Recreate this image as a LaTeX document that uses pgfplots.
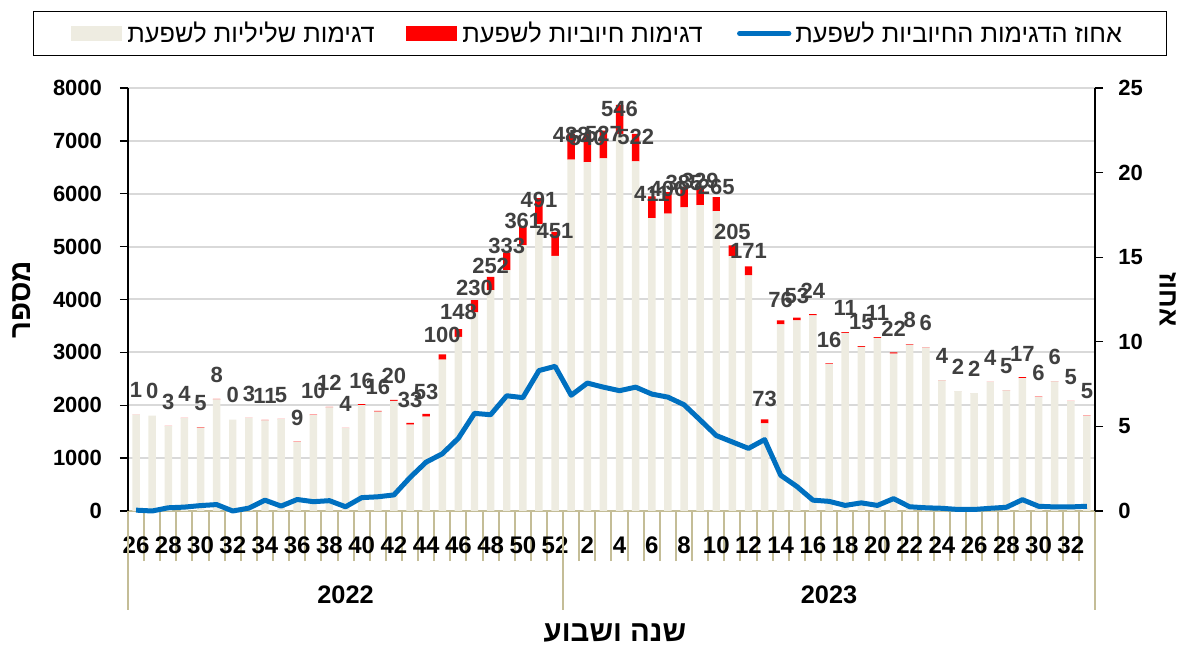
\documentclass[border=0pt]{standalone}
\usepackage{pgfplots}
\pgfplotsset{compat=1.18}
\usepackage{pgfplotstable}
\usepackage{fontspec}
\setmainfont{Liberation Sans}
\newfontfamily\heb[Script=Hebrew]{Liberation Sans}
\TeXXeTstate=1
\definecolor{beige}{HTML}{EEECE1}
\definecolor{tanline}{HTML}{C4BD97}
\definecolor{lblue}{HTML}{0070C0}
\definecolor{lgray}{HTML}{404040}
\definecolor{gridc}{HTML}{D9D9D9}

\pgfplotstableread{
idx neg pos pct
0 1823 1 0.05
1 1805 0 0.00
2 1607 3 0.19
3 1758 4 0.23
4 1579 5 0.32
5 2113 8 0.38
6 1730 0 0.00
7 1759 3 0.17
8 1713 11 0.64
9 1738 5 0.29
10 1305 9 0.68
11 1814 10 0.55
12 1958 12 0.61
13 1569 4 0.25
14 2003 16 0.79
15 1878 16 0.84
16 2082 20 0.95
17 1634 33 1.98
18 1784 53 2.89
19 2862 100 3.38
20 3292 148 4.30
21 3757 230 5.77
22 4176 252 5.69
23 4554 333 6.81
24 5029 361 6.70
25 5427 491 8.30
26 4826 451 8.55
27 6644 488 6.84
28 6600 540 7.56
29 6668 527 7.32
30 7134 546 7.11
31 6610 522 7.32
32 5539 411 6.91
33 5625 406 6.73
34 5741 385 6.28
35 5784 329 5.38
36 5672 265 4.46
37 4820 205 4.08
38 4454 171 3.70
39 1658 73 4.22
40 3530 76 2.11
41 3603 53 1.45
42 3701 24 0.64
43 2778 16 0.57
44 3370 11 0.33
45 3104 15 0.48
46 3276 11 0.33
47 2978 22 0.73
48 3142 8 0.25
49 3088 6 0.19
50 2471 4 0.16
51 2267 2 0.09
52 2229 2 0.09
53 2440 4 0.16
54 2282 5 0.22
55 2514 17 0.67
56 2156 6 0.28
57 2450 6 0.24
58 2076 5 0.24
59 1801 5 0.28
}\data

\begin{document}
\begin{tikzpicture}
\begin{axis}[
  at={(0,0)}, anchor=south west,
  scale only axis, width=725.25pt, height=317.25pt,
  xmin=-0.5, xmax=59.5, ymin=0, ymax=8000,
  ybar stacked, bar width=5.6pt,
  axis x line*=bottom, axis y line*=left,
  x axis line style={draw=tanline, line width=1.5pt},
  y axis line style={draw=black, line width=1pt},
  tick align=outside,
  xtick={0,2,...,58},
  xticklabels={26,28,30,32,34,36,38,40,42,44,46,48,50,52,2,4,6,8,10,12,14,16,18,20,22,24,26,28,30,32},
  every major x tick/.append style={draw=none},
  minor xtick={-0.5,0.5,...,59.5},
  every minor x tick/.append style={draw=tanline, line width=1.5pt},
  minor tick length=37.5pt,
  major tick length=6pt,
  ytick={0,1000,...,8000},
  every major y tick/.append style={draw=black, line width=1pt},
  ymajorgrids, grid style={draw=gridc, line width=1.5pt},
  xticklabel style={font=\fontsize{18}{20}\selectfont\bfseries, yshift=-10pt},
  yticklabel style={font=\fontsize{16.5}{18}\selectfont\bfseries, xshift=-10pt},
  /pgf/number format/assume math mode=true,
  /pgf/number format/1000 sep={},
  clip=false,
]
\addplot[fill=beige, draw=none] table[x=idx, y=neg]{\data};
\addplot[fill=red, draw=none] table[x=idx, y=pos]{\data};
\draw[tanline, line width=1.5pt] (axis cs:-0.5,0) -- ++(0pt,-74pt);
\draw[tanline, line width=1.5pt] (axis cs:26.5,0) -- ++(0pt,-74pt);
\draw[tanline, line width=1.5pt] (axis cs:59.5,0) -- ++(0pt,-74pt);
\node[font=\fontsize{19}{21}\selectfont\bfseries] at (axis cs:13,0) [yshift=-62.6pt] {2022};
\node[font=\fontsize{19}{21}\selectfont\bfseries] at (axis cs:43,0) [yshift=-62.6pt] {2023};
\node[font=\fontsize{22}{24}\selectfont\bfseries\heb] at (axis description cs:0.5036,-0.2884) {\beginR שנה ושבוע\endR};
\node[rotate=90, font=\fontsize{22}{24}\selectfont\bfseries\heb] at (axis description cs:-0.1096,0.5) {\beginR מספר\endR};
\end{axis}
\begin{axis}[
  at={(0,0)}, anchor=south west,
  scale only axis, width=725.25pt, height=317.25pt,
  xmin=-0.5, xmax=59.5, ymin=0, ymax=25,
  axis y line*=right, axis x line=none,
  y axis line style={draw=black, line width=1pt},
  tick align=outside, major tick length=6pt,
  ytick={0,5,...,25},
  every major y tick/.append style={draw=black, line width=1pt},
  yticklabel style={font=\fontsize{16.5}{18}\selectfont\bfseries, xshift=8pt},
  /pgf/number format/assume math mode=true,
  clip=false,
]
\addplot[lblue, line width=3.75pt, line join=round, mark=none] table[x=idx, y=pct]{\data};
\node[rotate=-90, inner sep=1pt, font=\fontsize{20}{22}\selectfont\bfseries\heb] at (axis description cs:1.0755,0.5) {\beginR אחוז\endR};
\end{axis}
\begin{axis}[
  at={(0,0)}, anchor=south west,
  scale only axis, width=725.25pt, height=317.25pt,
  xmin=-0.5, xmax=59.5, ymin=0, ymax=8000,
  hide axis, clip=false,
  legend columns=3,
  legend style={at={(axis description cs:0.488,1.129)}, anchor=center,
    draw=black, line width=0.75pt, inner xsep=13.5pt, inner ysep=6pt,
    font=\fontsize{19}{22}\selectfont\heb,
    nodes={inner xsep=0pt, inner ysep=2pt}},
]
\addplot[draw=none, mark=none, forget plot,
  nodes near coords={\pgfplotspointmeta}, point meta=explicit symbolic,
  nodes near coords style={font=\fontsize{16.5}{18}\selectfont\bfseries, text=lgray, anchor=center, yshift=18.4pt}]
  table[x=idx, y=neg, meta=pos]{\data};
\addlegendimage{legend image code/.code={\path (-15pt,0pt); \fill[beige] (0pt,-5.5pt) rectangle (37.5pt,5.5pt);}}
\addlegendentry{\hspace*{4pt}\makebox[209pt][l]{\beginR דגימות שליליות לשפעת\endR}}
\addlegendimage{legend image code/.code={\fill[red] (0pt,-5.5pt) rectangle (37.5pt,5.5pt);}}
\addlegendentry{\hspace*{4pt}\makebox[206pt][l]{\beginR דגימות חיוביות לשפעת\endR}}
\addlegendimage{legend image code/.code={\draw[lblue, line width=3.75pt, line cap=round] (2pt,0pt) -- (39pt,0pt);}}
\addlegendentry{\hspace*{3pt}\makebox[265pt][l]{\beginR אחוז הדגימות החיוביות לשפעת\endR}}
\end{axis}
\pgfresetboundingbox
\path[use as bounding box] (-96pt,-101.25pt) rectangle (791.25pt,383.25pt);
\end{tikzpicture}
\end{document}
